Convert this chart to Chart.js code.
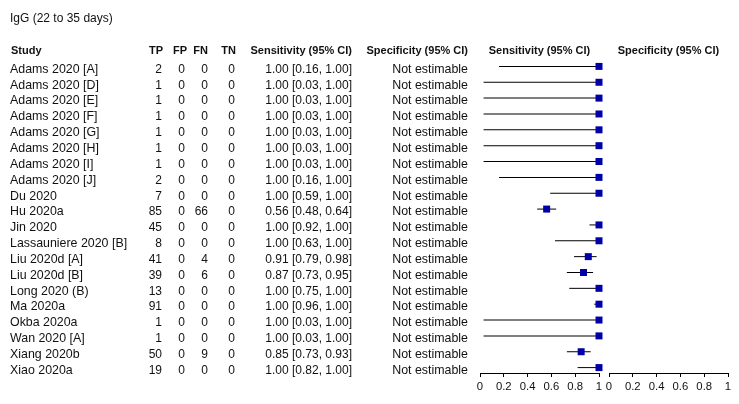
<!DOCTYPE html>
<html>
<head>
<meta charset="utf-8">
<script src="https://cdn.jsdelivr.net/npm/chart.js@4.4.0/dist/chart.umd.min.js"></script>
<style>
  html, body { margin: 0; padding: 0; background: #fff; }
  #wrap { position: relative; width: 739px; height: 404px; }
  #wrap canvas { position: absolute; left: 0; top: 0; }
</style>
</head>
<body>
<div id="wrap">
  <canvas id="forest" width="739" height="404"></canvas>
  <canvas id="specAxis" width="739" height="404"></canvas>
</div>
<script>
const title = 'IgG (22 to 35 days)';
const studies = ['Adams 2020 [A]', 'Adams 2020 [D]', 'Adams 2020 [E]', 'Adams 2020 [F]', 'Adams 2020 [G]',
  'Adams 2020 [H]', 'Adams 2020 [I]', 'Adams 2020 [J]', 'Du 2020', 'Hu 2020a', 'Jin 2020',
  'Lassauniere 2020 [B]', 'Liu 2020d [A]', 'Liu 2020d [B]', 'Long 2020 (B)', 'Ma 2020a',
  'Okba 2020a', 'Wan 2020 [A]', 'Xiang 2020b', 'Xiao 2020a'];
const tp = [2, 1, 1, 1, 1, 1, 1, 2, 7, 85, 45, 8, 41, 39, 13, 91, 1, 1, 50, 19];
const fp = [0, 0, 0, 0, 0, 0, 0, 0, 0, 0, 0, 0, 0, 0, 0, 0, 0, 0, 0, 0];
const fn = [0, 0, 0, 0, 0, 0, 0, 0, 0, 66, 0, 0, 4, 6, 0, 0, 0, 0, 9, 0];
const tn = [0, 0, 0, 0, 0, 0, 0, 0, 0, 0, 0, 0, 0, 0, 0, 0, 0, 0, 0, 0];
const sens = [1, 1, 1, 1, 1, 1, 1, 1, 1, 0.56, 1, 1, 0.91, 0.87, 1, 1, 1, 1, 0.85, 1];
const sensLo = [0.16, 0.03, 0.03, 0.03, 0.03, 0.03, 0.03, 0.16, 0.59, 0.48, 0.92, 0.63, 0.79, 0.73, 0.75, 0.96, 0.03, 0.03, 0.73, 0.82];
const sensHi = [1, 1, 1, 1, 1, 1, 1, 1, 1, 0.64, 1, 1, 0.98, 0.95, 1, 1, 1, 1, 0.93, 1];
const specText = 'Not estimable';
const axisTicks = [0, 0.2, 0.4, 0.6, 0.8, 1];

const FONT = '"Liberation Sans", Arial, sans-serif';
const INK = '#111';
const HEAD_Y = 54;

const f2 = v => v.toFixed(2);

// table columns, right edges in px
const tableCols = [
  { head: 'TP', hx: 163, x: 162, size: 12, val: i => String(tp[i]) },
  { head: 'FP', hx: 187, x: 185, size: 12, val: i => String(fp[i]) },
  { head: 'FN', hx: 208, x: 208, size: 12, val: i => String(fn[i]) },
  { head: 'TN', hx: 236, x: 235, size: 12, val: i => String(tn[i]) },
  { head: 'Sensitivity (95% CI)', hx: 352, x: 352, size: 12, val: i => f2(sens[i]) + ' [' + f2(sensLo[i]) + ', ' + f2(sensHi[i]) + ']' },
  { head: 'Specificity (95% CI)', hx: 468, x: 468, size: 12.4, val: i => specText }
];

const tablePlugin = {
  id: 'forestTable',
  afterDraw(chart) {
    const ctx = chart.ctx;
    const y = chart.scales.y;
    const sx = chart.scales.x;
    ctx.save();
    ctx.fillStyle = INK;
    ctx.textBaseline = 'alphabetic';

    ctx.font = '12px ' + FONT;
    ctx.textAlign = 'left';
    ctx.fillText(title, 10, 21.5);

    ctx.font = 'bold 11px ' + FONT;
    ctx.fillText('Study', 11, HEAD_Y);
    ctx.textAlign = 'right';
    tableCols.forEach(c => ctx.fillText(c.head, c.hx, HEAD_Y));
    ctx.textAlign = 'center';
    ctx.fillText('Sensitivity (95% CI)', (sx.left + sx.right) / 2, HEAD_Y);

    studies.forEach((s, i) => {
      const by = y.getPixelForValue(i) + 6.3;
      ctx.font = '12.4px ' + FONT;
      ctx.textAlign = 'left';
      ctx.fillText(s, 10, by);
      ctx.textAlign = 'right';
      tableCols.forEach(c => {
        ctx.font = c.size + 'px ' + FONT;
        ctx.fillText(c.val(i), c.x, by);
      });
    });
    ctx.restore();
  }
};

const specHeadPlugin = {
  id: 'specHead',
  afterDraw(chart) {
    const ctx = chart.ctx;
    const sx = chart.scales.x;
    ctx.save();
    ctx.fillStyle = INK;
    ctx.font = 'bold 11px ' + FONT;
    ctx.textAlign = 'center';
    ctx.textBaseline = 'alphabetic';
    ctx.fillText('Specificity (95% CI)', (sx.left + sx.right) / 2, HEAD_Y);
    ctx.restore();
  }
};

const rowScale = () => ({
  type: 'linear',
  display: false,
  reverse: true,
  offset: false,
  grid: { offset: false },
  min: -0.53125,
  max: 19.34375
});

const probAxis = () => ({
  type: 'linear',
  position: 'bottom',
  offset: false,
  min: 0,
  max: 1,
  afterBuildTicks: scale => { scale.ticks = axisTicks.map(v => ({ value: v })); },
  ticks: {
    autoSkip: false,
    maxRotation: 0,
    padding: 3,
    color: INK,
    font: { family: FONT, size: 11.3 },
    callback: v => String(Number(v.toFixed(1)))
  },
  grid: { display: true, drawOnChartArea: false, drawTicks: true, tickLength: 4, color: '#000', lineWidth: 1, offset: false },
  border: { display: true, color: '#000', width: 1 }
});

const baseOptions = (padLeft, padRight) => ({
  responsive: false,
  animation: false,
  events: [],
  layout: { padding: { left: padLeft, right: padRight, top: 58, bottom: 7.4 } },
  plugins: { legend: { display: false }, tooltip: { enabled: false } },
  scales: { x: probAxis(), y: rowScale() }
});

const forest = new Chart(document.getElementById('forest'), {
  type: 'scatter',
  data: {
    datasets: [{
      type: 'scatter',
      label: 'Sensitivity',
      data: sens.map((v, i) => ({ x: v, y: i })),
      pointStyle: 'rect',
      pointRadius: 4.95,
      pointHoverRadius: 4.95,
      backgroundColor: '#0000a8',
      borderWidth: 0,
      clip: false,
      order: 0
    }, {
      type: 'bar',
      label: '95% CI',
      indexAxis: 'y',
      data: sensLo.map((lo, i) => ({ x: [lo, sensHi[i]], y: i })),
      backgroundColor: '#000',
      borderWidth: 0,
      barThickness: 1,
      inflateAmount: 0,
      clip: false,
      order: 1
    }]
  },
  options: baseOptions(480, 140),
  plugins: [tablePlugin]
});

// specificity panel: no estimates, only its axis
const specChart = new Chart(document.getElementById('specAxis'), {
  type: 'scatter',
  data: { datasets: [{ label: 'Specificity', data: [] }] },
  options: baseOptions(609, 11),
  plugins: [specHeadPlugin]
});
</script>
</body>
</html>
